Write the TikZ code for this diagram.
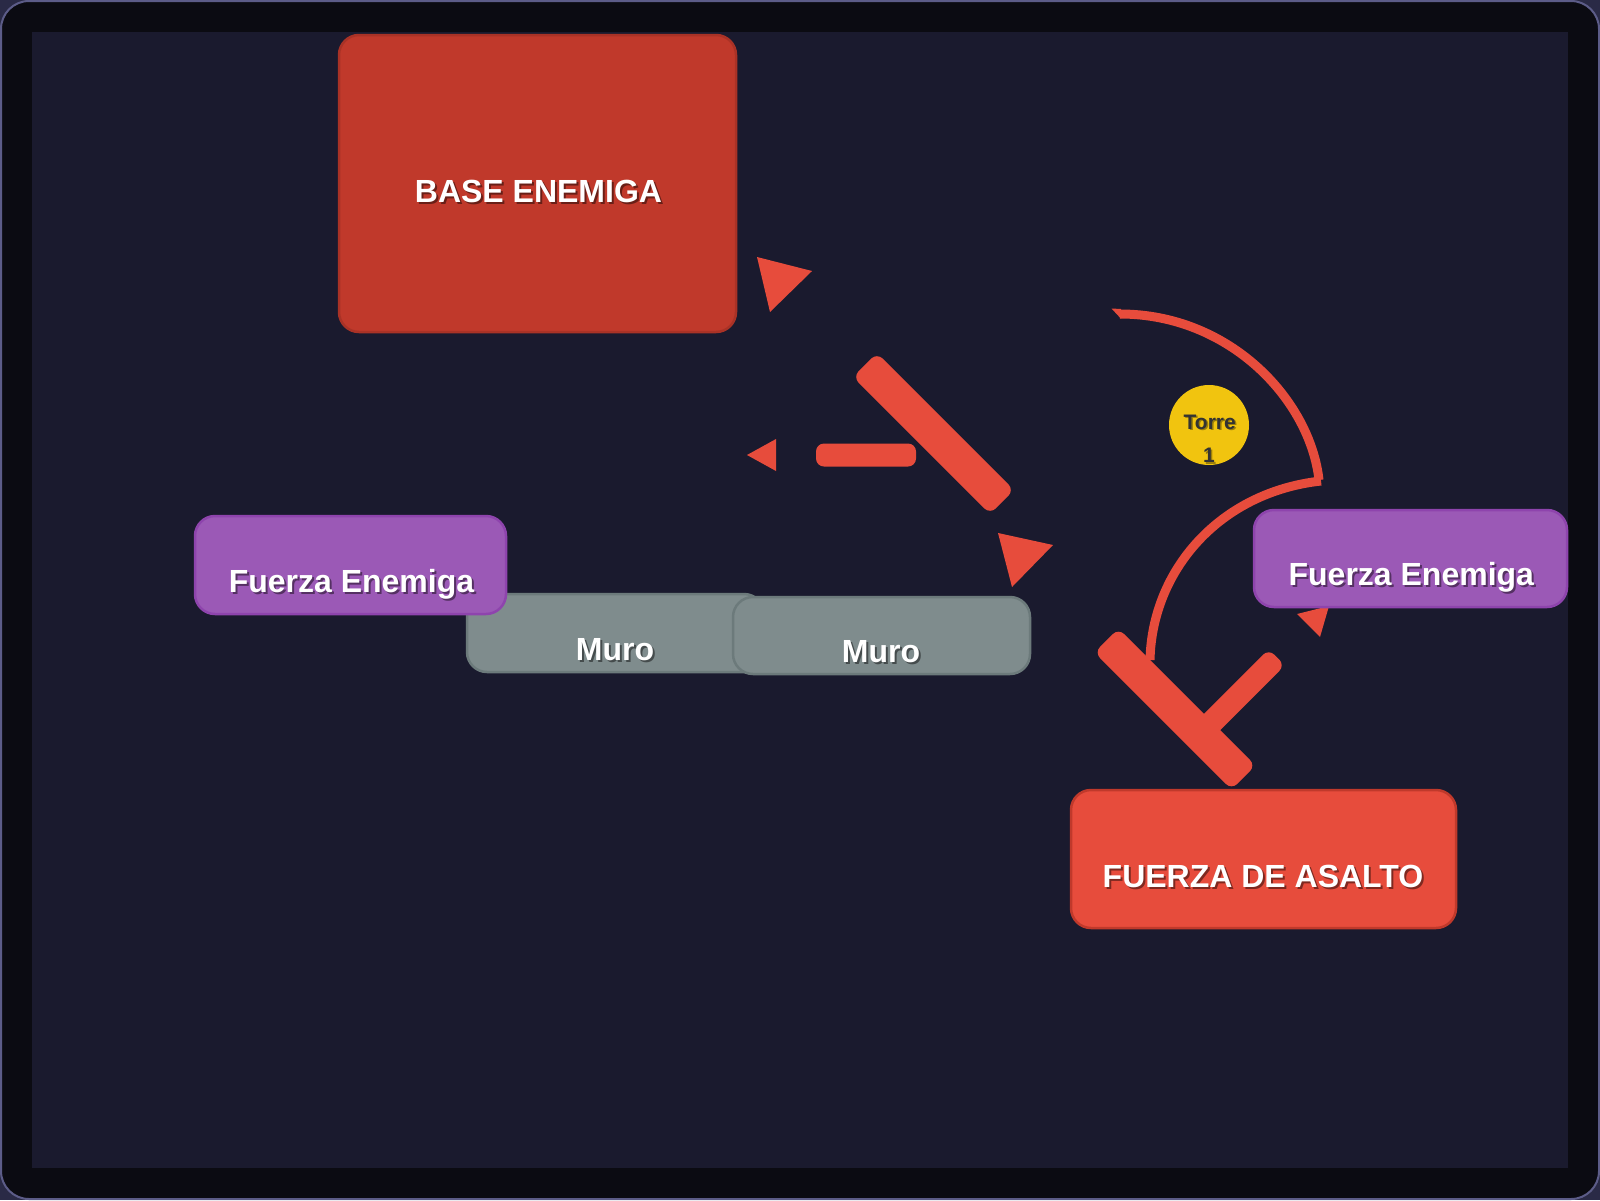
\documentclass[tikz,border=0pt]{standalone}
\usepackage{fontspec}
\setmainfont{Liberation Sans}

\definecolor{pagebg}{HTML}{2A2A46}
\definecolor{framebg}{HTML}{0B0B12}
\definecolor{frameline}{HTML}{5C5C88}
\definecolor{fieldbg}{HTML}{1A1A2E}
\definecolor{attack}{HTML}{E74C3C}
\definecolor{attackedge}{HTML}{C0392B}
\definecolor{basefill}{HTML}{C0392B}
\definecolor{baseedge}{HTML}{A93226}
\definecolor{enemyfill}{HTML}{9B59B6}
\definecolor{enemyedge}{HTML}{8E44AD}
\definecolor{wallfill}{HTML}{7F8C8D}
\definecolor{walledge}{HTML}{6C7A7B}
\definecolor{towerfill}{HTML}{F1C40F}
\definecolor{towertext}{HTML}{333333}

\begin{document}
\begin{tikzpicture}[x=1pt,y=-1pt,
  box/.style={draw, line width=2.5pt, rounded corners=20pt, inner sep=0pt, outer sep=0pt},
  bar/.style={fill=attack, rounded corners=8pt, inner sep=0pt, outer sep=0pt},
  head/.style={fill=attack},
  link/.style={draw=attack, line width=9pt},
  lbl/.style={text=white, font=\bfseries\fontsize{32}{38}\selectfont, anchor=base, inner sep=0pt},
  lblshadow/.style={lbl, text=black, opacity=0.45, xshift=2pt, yshift=-2pt},
  towerlbl/.style={text=towertext, font=\bfseries\fontsize{21}{25}\selectfont, anchor=base, inner sep=0pt},
  towershadow/.style={towerlbl, text=black, opacity=0.35, xshift=1.5pt, yshift=-1.5pt}]

\useasboundingbox (0,0) rectangle (1600,1200);

% page, frame and playing field
\fill[pagebg] (0,0) rectangle (1600,1200);
\draw[draw=frameline, fill=framebg, line width=2pt, rounded corners=28pt] (1,1) rectangle (1599,1199);
\fill[fieldbg] (32,32) rectangle (1568,1168);

% enemy base
\node[box, fill=basefill, draw=baseedge, minimum width=397pt, minimum height=297pt] (base) at (537.5,183.5) {};

% attack markers: arrowheads
\fill[head] (757,257) -- (812,271) -- (770,312) -- cycle;
\fill[head] (998,533) -- (1053,545) -- (1012,587) -- cycle;
\fill[head] (747,455) -- (776,439) -- (776,471) -- cycle;
\fill[head] (1297,614) -- (1329,606) -- (1320,637) -- cycle;

% attack markers: bars
\node[bar, rotate=-45, minimum width=194pt, minimum height=34pt] (barA) at (933.5,433.5) {};
\node[bar, minimum width=100pt, minimum height=23pt] (barB) at (866,455) {};
\node[bar, rotate=-45, minimum width=194pt, minimum height=34pt] (barC) at (1175,709) {};
\node[bar, rotate=45, minimum width=100pt, minimum height=23pt] (barD) at (1241.5,692.5) {};

% flanking route around the tower
\coordinate (routeA) at (1120,314);
\coordinate (routeB) at (1319,480);
\coordinate (routeC) at (1150,660);
\fill[head] (1111.5,308.5) -- (1121,309) -- (1121,318.7) -- cycle;
\draw[link] (routeA) .. controls (1230,314) and (1310,400) .. (routeB);
\draw[link] (1321,481) .. controls (1220,492) and (1152,570) .. (routeC);

% tower
\node[circle, fill=towerfill, minimum size=80pt, inner sep=0pt] (tower) at (1209,425) {};
\node[towershadow] (towerAs) at (1209.7,429.3) {Torre};
\node[towerlbl] (towerA) at (1209.7,429.3) {Torre};
\node[towershadow] (towerBs) at (1209,462.7) {1};
\node[towerlbl] (towerB) at (1209,462.7) {1};

% walls
\node[box, fill=wallfill, draw=walledge, minimum width=297pt, minimum height=78pt] (wallA) at (615.5,633) {};
\node[box, fill=wallfill, draw=walledge, minimum width=297pt, minimum height=77pt] (wallB) at (881.5,635.5) {};

% enemy forces
\node[box, fill=enemyfill, draw=enemyedge, minimum width=311pt, minimum height=98pt] (enemyL) at (350.5,565) {};
\node[box, fill=enemyfill, draw=enemyedge, minimum width=313pt, minimum height=97pt] (enemyR) at (1410.5,558.5) {};

% assault force
\node[box, fill=attack, draw=attackedge, minimum width=385pt, minimum height=138pt] (assault) at (1263.5,859) {};

% labels
\node[lblshadow] (baseTs) at (538.5,202) {BASE ENEMIGA};
\node[lbl] (baseT) at (538.5,202) {BASE ENEMIGA};
\node[lblshadow] (enemyLTs) at (351.5,592) {Fuerza Enemiga};
\node[lbl] (enemyLT) at (351.5,592) {Fuerza Enemiga};
\node[lblshadow] (wallATs) at (615,660) {Muro};
\node[lbl] (wallAT) at (615,660) {Muro};
\node[lblshadow] (wallBTs) at (881,662.7) {Muro};
\node[lbl] (wallBT) at (881,662.7) {Muro};
\node[lblshadow] (enemyRTs) at (1411.3,585.7) {Fuerza Enemiga};
\node[lbl] (enemyRT) at (1411.3,585.7) {Fuerza Enemiga};
\node[lblshadow] (assaultTs) at (1263,887) {FUERZA DE ASALTO};
\node[lbl] (assaultT) at (1263,887) {FUERZA DE ASALTO};

\end{tikzpicture}
\end{document}
